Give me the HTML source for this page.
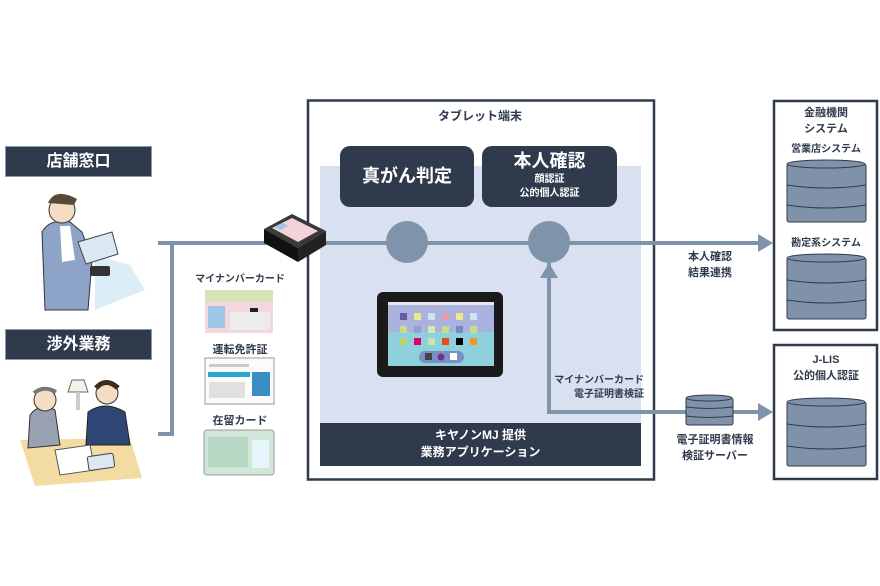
<!DOCTYPE html>
<html><head><meta charset="utf-8"><style>
body{margin:0;width:880px;height:586px;background:#fff;position:relative;overflow:hidden;font-family:"Liberation Sans","Noto Sans CJK JP",sans-serif;font-weight:bold;color:#2f3b4c}
.a{position:absolute}
.lbl{background:#2f3b4d;color:#fff;text-align:center;border:1px solid #8b9ab0;box-sizing:border-box}
.t{position:absolute;text-align:center;font-size:12px;line-height:16px;color:#2f3b4c}
</style></head><body>
<svg class="a" style="left:0;top:0" width="880" height="586">
<rect x="308" y="100.5" width="346" height="379" fill="#fff" stroke="#2f3b4c" stroke-width="2.5"/>
<rect x="320" y="166" width="321" height="257" fill="#d9e1f0"/>
<rect x="320" y="423" width="321" height="43" fill="#2f3b4d"/>
<rect x="340" y="146" width="134" height="61" rx="10" fill="#2f3b4d"/>
<rect x="482" y="146" width="135" height="61" rx="10" fill="#2f3b4d"/>
<rect x="774" y="101" width="103" height="229" fill="#fff" stroke="#2f3b4c" stroke-width="2.5"/>
<rect x="774" y="345" width="103" height="134" fill="#fff" stroke="#2f3b4c" stroke-width="2.5"/>
<g stroke="#7f93ab" stroke-width="4" fill="none">
<path d="M158 243 H172 V434 H158"/>
<path d="M172 243 H760"/>
<path d="M549 263 V412 H760"/>
</g>
<g fill="#7f93ab">
<polygon points="758,234 773,243 758,252"/>
<polygon points="758,403 773,412 758,421"/>
<polygon points="540,278 549,263 558,278"/>
<circle cx="407" cy="242" r="21"/>
<circle cx="549" cy="242" r="21"/>
</g>
<g fill="#8092aa" stroke="#2f3b4c" stroke-width="1">
<rect x="787" y="164" width="79" height="58" rx="2"/>
<ellipse cx="826" cy="164" rx="39" ry="4"/>
<path d="M787 185 Q826 191 866 185 M787 205 Q826 211 866 205" fill="none"/>
<rect x="787" y="258" width="79" height="61" rx="2"/>
<ellipse cx="826" cy="258" rx="39" ry="4"/>
<path d="M787 280 Q826 286 866 280 M787 300 Q826 306 866 300" fill="none"/>
<rect x="787" y="402" width="79" height="64" rx="2"/>
<ellipse cx="826" cy="402" rx="39" ry="4"/>
<path d="M787 424 Q826 430 866 424 M787 446 Q826 452 866 446" fill="none"/>
<rect x="686" y="398" width="47" height="27" rx="2"/>
<ellipse cx="709" cy="398" rx="23" ry="3"/>
<path d="M686 407 Q709 410 733 407 M686 416 Q709 419 733 416" fill="none"/>
</g>
<rect x="377" y="292" width="126" height="85" rx="6" fill="#1a1a1a"/>
<rect x="388" y="302" width="106" height="64" fill="#8ed0dc"/>
<rect x="388" y="302" width="106" height="30" fill="#a9b3dd"/>
<rect x="388" y="302" width="106" height="3" fill="#e8e8e8"/>
<g>
<rect x="400" y="313" width="7" height="7" fill="#6a5aa3"/><rect x="414" y="313" width="7" height="7" fill="#eee68a"/><rect x="428" y="313" width="7" height="7" fill="#cce6f0"/><rect x="442" y="313" width="7" height="7" fill="#e99aa8"/><rect x="456" y="313" width="7" height="7" fill="#eee68a"/><rect x="470" y="313" width="7" height="7" fill="#cce6f0"/>
<rect x="400" y="326" width="7" height="7" fill="#c8dc8a"/><rect x="414" y="326" width="7" height="7" fill="#8fa0cc"/><rect x="428" y="326" width="7" height="7" fill="#d7e8b0"/><rect x="442" y="326" width="7" height="7" fill="#c8dc8a"/><rect x="456" y="326" width="7" height="7" fill="#7889c4"/><rect x="470" y="326" width="7" height="7" fill="#c8dc8a"/>
<rect x="400" y="338" width="7" height="7" fill="#bcd36a"/><rect x="414" y="338" width="7" height="7" fill="#e0006a"/><rect x="428" y="338" width="7" height="7" fill="#cfe3a8"/><rect x="442" y="338" width="7" height="7" fill="#e84b1a"/><rect x="456" y="338" width="7" height="7" fill="#000"/><rect x="470" y="338" width="7" height="7" fill="#f09a20"/>
<rect x="419" y="351" width="45" height="12" rx="6" fill="#7a90c4"/>
<rect x="425" y="353" width="7" height="7" fill="#444"/><circle cx="441" cy="357" r="3.5" fill="#7a2b8a"/><rect x="450" y="353" width="7" height="7" fill="#fff"/>
</g>
<!-- card reader (isometric-ish) -->
<polygon points="264,229 292,214 326,231 298,248" fill="#3a3a3a"/>
<polygon points="264,229 298,248 298,262 264,243" fill="#111"/>
<polygon points="298,248 326,231 326,245 298,262" fill="#222"/>
<polygon points="272,228 292,218 318,231 298,242" fill="#f3d3d9"/>
<polygon points="275,227 283,223 288,226 280,230" fill="#9ec6e6"/>
<!-- cards -->
<rect x="205" y="290" width="68" height="43" fill="#f4d6dc"/><rect x="205" y="290" width="68" height="12" fill="#d7e2b8"/>
<rect x="208" y="306" width="17" height="22" fill="#9ec6e6"/><rect x="230" y="312" width="40" height="18" fill="#ececec"/><rect x="250" y="308" width="8" height="4" fill="#222"/>
<rect x="205" y="358" width="69" height="46" fill="#fbfbfb" stroke="#999" stroke-width="1"/>
<rect x="208" y="372" width="42" height="5" fill="#29a8d0"/><rect x="252" y="372" width="18" height="24" fill="#3b8ec4"/>
<rect x="209" y="364" width="40" height="3" fill="#ccc"/><rect x="209" y="382" width="36" height="16" fill="#e0e0e0"/>
<rect x="204" y="430" width="70" height="45" rx="3" fill="#cfe6d8" stroke="#999" stroke-width="1"/>
<rect x="252" y="440" width="17" height="28" fill="#e8f4fb"/><rect x="208" y="437" width="40" height="30" fill="#b8d6c4"/>
<!-- standing clerk -->
<path d="M95 255 L130 265 L145 290 L95 310 Z" fill="#dbeef8"/>
<path d="M42 232 Q50 218 70 222 L82 232 L92 260 L88 310 L45 310 Z" fill="#8ea3c8" stroke="#333" stroke-width="1"/>
<path d="M60 226 L70 226 L75 260 L62 262 Z" fill="#fff"/>
<circle cx="62" cy="210" r="13" fill="#f5dcc5" stroke="#333"/>
<path d="M48 203 Q55 187 77 199 L74 205 Z" fill="#5a4a3a"/>
<path d="M78 242 L112 232 L118 254 L86 264 Z" fill="#dde8f5" stroke="#444"/>
<rect x="90" y="266" width="20" height="10" rx="2" fill="#333"/>
<!-- seated meeting -->
<path d="M20 440 L130 438 L142 478 L35 486 Z" fill="#f3dca2"/>
<path d="M30 415 Q40 402 55 410 L60 445 L28 448 Z" fill="#9aa0b4" stroke="#333" stroke-width="1"/>
<circle cx="45" cy="400" r="11" fill="#f5dcc5" stroke="#333"/>
<path d="M34 393 Q44 385 56 392" stroke="#777" stroke-width="4" fill="none"/>
<path d="M88 412 Q105 400 125 412 L130 445 L86 445 Z" fill="#2f4573" stroke="#222" stroke-width="1"/>
<circle cx="107" cy="393" r="11" fill="#f5dcc5" stroke="#333"/>
<path d="M96 388 Q106 377 118 388" stroke="#3a2e22" stroke-width="5" fill="none"/>
<path d="M55 450 L90 445 L95 470 L60 475 Z" fill="#fff" stroke="#555"/>
<rect x="88" y="455" width="26" height="14" rx="2" fill="#dde8f5" stroke="#444" transform="rotate(-8 100 462)"/>
<path d="M72 380 L84 380 L88 392 L68 392 Z" fill="#f5f0e8" stroke="#666"/>
<rect x="76" y="392" width="4" height="18" fill="#ccc"/>
</svg>
<div class="a lbl" style="left:5px;top:146px;width:147px;height:31px;font-size:16px;line-height:30px">店舗窓口</div>
<div class="a lbl" style="left:5px;top:329px;width:147px;height:31px;font-size:16px;line-height:30px">渉外業務</div>
<div class="t" style="left:195px;top:274px;width:90px;font-size:10px;line-height:12px">マイナンバーカード</div>
<div class="t" style="left:195px;top:344px;width:90px;font-size:11px;line-height:13px">運転免許証</div>
<div class="t" style="left:195px;top:415px;width:90px;font-size:11px;line-height:13px">在留カード</div>
<div class="t" style="left:410px;top:108px;width:140px;font-size:12px">タブレット端末</div>
<div class="a" style="left:340px;top:164px;width:134px;text-align:center;color:#fff;font-size:18px;line-height:24px">真がん判定</div>
<div class="a" style="left:482px;top:150px;width:135px;text-align:center;color:#fff;font-size:18px;line-height:22px">本人確認</div>
<div class="a" style="left:482px;top:173px;width:135px;text-align:center;color:#fff;font-size:10px;line-height:14px">顔認証<br>公的個人認証</div>
<div class="a" style="left:320px;top:427px;width:321px;text-align:center;color:#fff;font-size:12px;line-height:17px">キヤノンMJ 提供<br>業務アプリケーション</div>
<div class="t" style="left:540px;top:374px;width:104px;font-size:10px;line-height:14px;text-align:right">マイナンバーカード<br>電子証明書検証</div>
<div class="t" style="left:660px;top:249px;width:100px;font-size:11px;line-height:16px">本人確認<br>結果連携</div>
<div class="t" style="left:660px;top:432px;width:110px;font-size:11px;line-height:16px">電子証明書情報<br>検証サーバー</div>
<div class="t" style="left:774px;top:105px;width:104px;font-size:11px;line-height:16px">金融機関<br>システム</div>
<div class="t" style="left:774px;top:143px;width:104px;font-size:10px;line-height:14px">営業店システム</div>
<div class="t" style="left:774px;top:237px;width:104px;font-size:10px;line-height:14px">勘定系システム</div>
<div class="t" style="left:774px;top:352px;width:104px;font-size:11px;line-height:16px">J-LIS<br>公的個人認証</div>
</body></html>
